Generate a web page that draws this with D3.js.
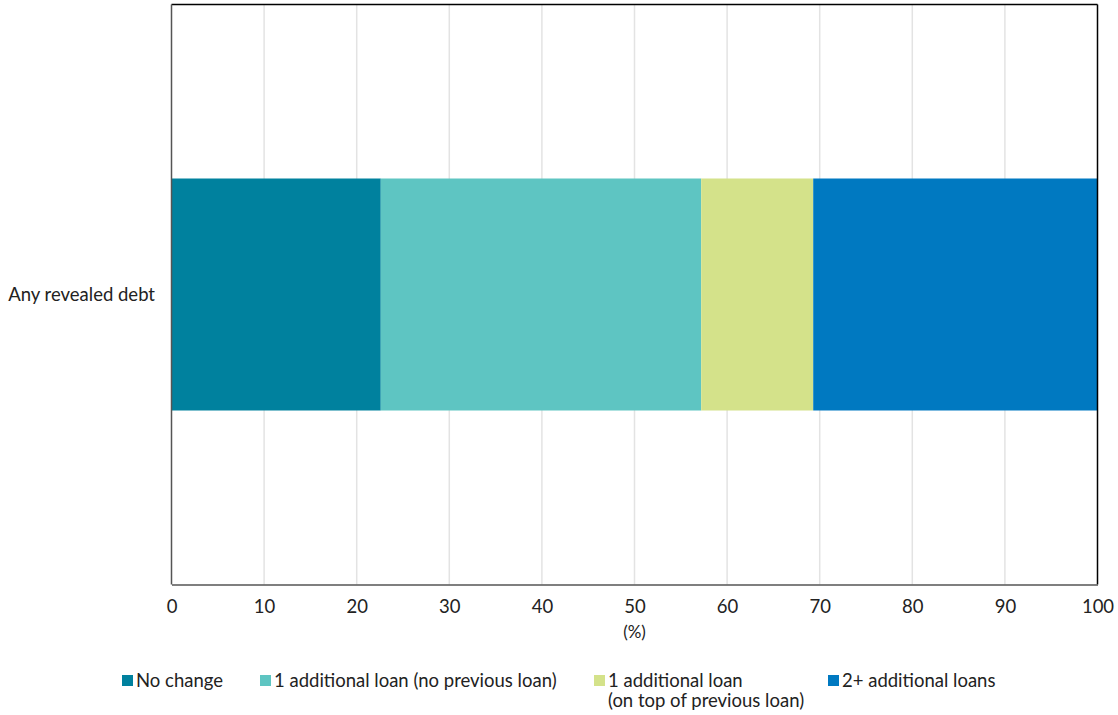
<!DOCTYPE html>
<html>
<head>
<meta charset="utf-8">
<script src="https://cdn.jsdelivr.net/npm/d3@7"></script>
<style>
  html, body { margin: 0; padding: 0; background: #fff; }
  svg { display: block; font-family: Lato, "Open Sans", sans-serif; }
</style>
</head>
<body>
<svg id="chart" width="1118" height="715"></svg>
<script>
// Share of borrowers by change in loan count (%)
const categories = ["Any revealed debt"];
const seriesNames = [
  "No change",
  "1 additional loan (no previous loan)",
  "1 additional loan (on top of previous loan)",
  "2+ additional loans"
];
const noChange = [22.6];
const oneNoPrev = [34.6];
const oneOnTop = [12.1];
const twoPlus = [30.7];
const xTicks = [0, 10, 20, 30, 40, 50, 60, 70, 80, 90, 100];
const colors = ["#00819e", "#5ec5c2", "#d4e28a", "#0079c1"];
const legendLines = [
  ["No change"],
  ["1 additional loan (no previous loan)"],
  ["1 additional loan", "(on top of previous loan)"],
  ["2+ additional loans"]
];

const FONT = 18.5;
const svg = d3.select("#chart");
const margin = { left: 171.5, right: 20.5, top: 4.5, bottom: 130.5 };
const W = 1118, H = 715;
const plotW = W - margin.left - margin.right;
const plotH = H - margin.top - margin.bottom;

const x = d3.scaleLinear().domain([0, 100]).range([margin.left, margin.left + plotW]);
const y = d3.scaleBand().domain(categories).range([margin.top, margin.top + plotH]).paddingInner(0.6).paddingOuter(0.3);

// vertical gridlines
svg.append("g").selectAll("line")
  .data(xTicks.filter(d => d > 0 && d < 100))
  .join("line")
  .attr("x1", d => x(d)).attr("x2", d => x(d))
  .attr("y1", margin.top).attr("y2", margin.top + plotH)
  .attr("stroke", "#e3e3e3").attr("stroke-width", 1.5);

// stacked bars
const rows = categories.map((c, i) => ({
  cat: c,
  [seriesNames[0]]: noChange[i],
  [seriesNames[1]]: oneNoPrev[i],
  [seriesNames[2]]: oneOnTop[i],
  [seriesNames[3]]: twoPlus[i]
}));
const stacked = d3.stack().keys(seriesNames)(rows);

svg.append("g").selectAll("g")
  .data(stacked)
  .join("g")
  .attr("fill", (d, i) => colors[i])
  .selectAll("rect")
  .data(d => d)
  .join("rect")
  .attr("x", d => x(d[0]))
  .attr("width", d => x(d[1]) - x(d[0]))
  .attr("y", d => y(d.data.cat))
  .attr("height", y.bandwidth());

// frame: black top and right, grey left and bottom axis lines
svg.append("line").attr("x1", x(0)).attr("x2", x(100)).attr("y1", margin.top).attr("y2", margin.top)
  .attr("stroke", "#000").attr("stroke-width", 1.5);
svg.append("line").attr("x1", x(100)).attr("x2", x(100)).attr("y1", margin.top).attr("y2", margin.top + plotH)
  .attr("stroke", "#000").attr("stroke-width", 1.5);
svg.append("line").attr("x1", x(0)).attr("x2", x(0)).attr("y1", margin.top).attr("y2", margin.top + plotH)
  .attr("stroke", "#555").attr("stroke-width", 1.5);

// x axis
const xAxis = d3.axisBottom(x).tickValues(xTicks).tickFormat(d3.format("d")).tickSize(0).tickPadding(15);
const gx = svg.append("g").attr("transform", `translate(0,${margin.top + plotH})`).call(xAxis);
gx.select(".domain").attr("stroke", "#555").attr("stroke-width", 1.5);
gx.selectAll("text").attr("font-size", FONT).attr("fill", "#222").attr("font-family", "Lato, sans-serif");

svg.append("text")
  .attr("x", x(50)).attr("y", 638)
  .attr("text-anchor", "middle").attr("font-size", 17).attr("fill", "#222")
  .text("(%)");

// category label
svg.append("g").selectAll("text")
  .data(categories)
  .join("text")
  .attr("x", 155)
  .attr("y", d => y(d) + y.bandwidth() / 2)
  .attr("dy", "0.35em")
  .attr("text-anchor", "end")
  .attr("font-size", FONT).attr("fill", "#222")
  .text(d => d);

// legend
const legendX = [122, 260, 594, 828];
const leg = svg.append("g").selectAll("g")
  .data(seriesNames)
  .join("g")
  .attr("transform", (d, i) => `translate(${legendX[i]},687)`);
leg.append("rect")
  .attr("x", 0).attr("y", -12).attr("width", 11).attr("height", 11)
  .attr("fill", (d, i) => colors[i]);
leg.each(function(d, i) {
  const t = d3.select(this).append("text")
    .attr("x", 14).attr("y", 0)
    .attr("font-size", FONT).attr("fill", "#222");
  legendLines[i].forEach((line, j) => {
    t.append("tspan").attr("x", 14).attr("dy", j === 0 ? 0 : 20).text(line);
  });
});
</script>
</body>
</html>
